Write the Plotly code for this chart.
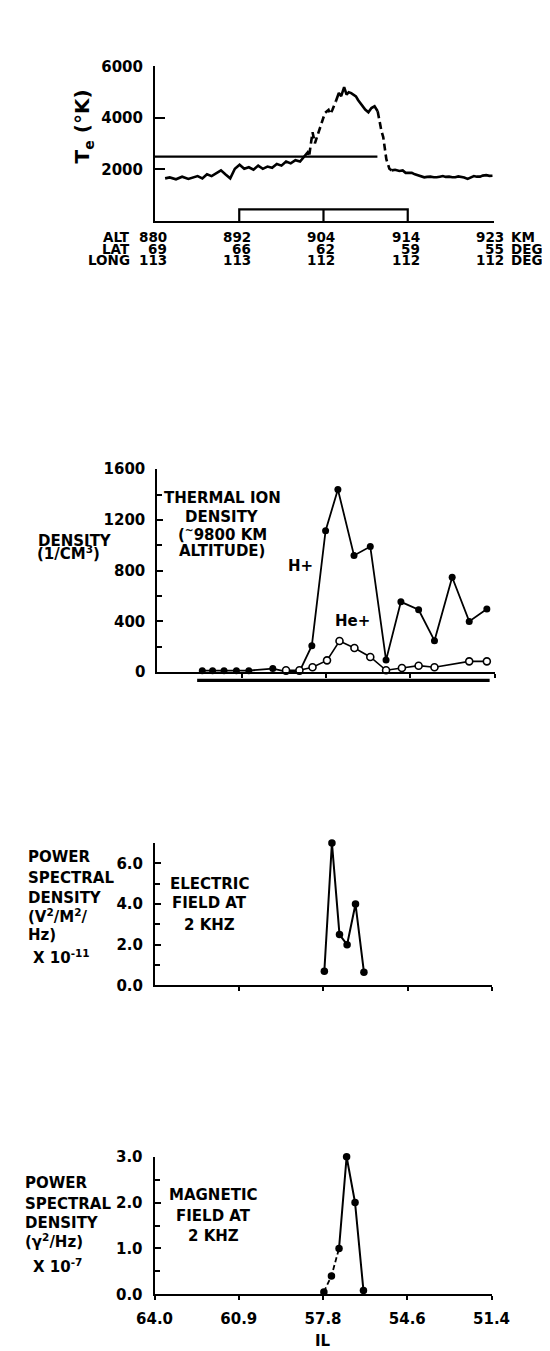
import plotly.graph_objects as go

W, H = 550, 1351

# ---------------- data ----------------
# common time-like position along the pass (0..4 = labelled tick marks)
tick_t = [0, 1, 2, 3, 4]
il_labels = ["64.0", "60.9", "57.8", "54.6", "51.4"]
alt_labels = ["880", "892", "904", "914", "923"]
lat_labels = ["69", "66", "62", "59", "55"]
long_labels = ["113", "113", "112", "112", "112"]

# electron temperature (K)
te_t = [0.120, 0.175, 0.249, 0.322, 0.396, 0.451, 0.506, 0.562, 0.617, 0.672,
        0.727, 0.783, 0.838, 0.893, 0.948, 1.004, 1.059, 1.114, 1.169, 1.225,
        1.280, 1.335, 1.390, 1.446, 1.501, 1.556, 1.611, 1.667, 1.722, 1.777,
        1.814, 1.832,
        1.870, 1.898, 1.961, 1.998, 2.017, 2.060, 2.080, 2.105, 2.146,
        2.182, 2.210, 2.230, 2.245, 2.274, 2.300, 2.329, 2.360, 2.385, 2.410,
        2.440, 2.470, 2.495, 2.533, 2.569, 2.606, 2.643,
        2.661, 2.687, 2.709, 2.735, 2.746, 2.782, 2.809,
        2.850, 2.901, 2.940, 2.975, 3.010, 3.048, 3.085, 3.122, 3.160, 3.196,
        3.230, 3.269, 3.310, 3.343, 3.380, 3.417, 3.450, 3.490, 3.530, 3.564,
        3.600, 3.638, 3.670, 3.711, 3.750, 3.785, 3.820, 3.859, 3.890, 3.931,
        3.970, 4.006]
te_k = [1654, 1691, 1617, 1716, 1630, 1691, 1741, 1654, 1815, 1741,
        1864, 1963, 1802, 1654, 2025, 2185, 2025, 2086, 1988, 2148,
        2025, 2111, 2062, 2210, 2148, 2309, 2235, 2358, 2309, 2519,
        2667, 2580,
        3445, 3016, 3630, 4063, 4190, 4310, 4150, 4310, 4640,
        4967, 4850, 5099, 5200, 4905, 5000, 4967, 4880, 4840, 4700,
        4580, 4450, 4325, 4220, 4387, 4453, 4260,
        3878, 3508, 3260, 2705, 2398, 2028, 1965,
        1990, 1941, 1960, 1867, 1880, 1867, 1810, 1780, 1740, 1695,
        1710, 1720, 1700, 1695, 1720, 1745, 1710, 1720, 1700, 1695,
        1730, 1720, 1690, 1634, 1700, 1745, 1720, 1720, 1760, 1780,
        1750, 1756]
te_dashed_spans = [(1.832, 2.146), (2.643, 2.809)]
te_ref_t = [0, 2.64]
te_ref_k = 2500
box_t = [1, 2, 3]
box_k = 450

# thermal ion density (1/cm3)
hplus_t = [0.533, 0.655, 0.791, 0.938, 1.085, 1.369, 1.526, 1.685, 1.832, 1.995,
           2.141, 2.332, 2.525, 2.712, 2.888, 3.098, 3.286, 3.496, 3.698, 3.907]
hplus_n = [12, 12, 12, 12, 12, 28, 5, 5, 209, 1115,
           1440, 920, 990, 95, 554, 492, 248, 748, 400, 498]
heplus_t = [1.526, 1.685, 1.840, 2.012, 2.160, 2.337, 2.525, 2.712, 2.900,
            3.098, 3.286, 3.698, 3.907]
heplus_n = [15, 15, 39, 93, 245, 190, 120, 15, 33, 51, 39, 85, 85]
ion_span_t = [0.472, 3.94]

# 2 kHz wave power spectral densities
vlf_t = [2.01, 2.10, 2.19, 2.28, 2.38, 2.48]
e_psd = [0.7, 7.0, 2.5, 2.0, 4.0, 0.65]
b_psd = [0.05, 0.4, 1.0, 3.0, 2.0, 0.08]
b_dashed_upto = 2

# ---------------- helpers ----------------
def fx(px):
    return px / W

def fy(py):
    return 1 - py / H

BLACK = "black"
FONT = "DejaVu Sans"

fig = go.Figure()

# ---- panel 1 : Te ----
segs = []
for i in range(len(te_t) - 1):
    mid = 0.5 * (te_t[i] + te_t[i + 1])
    dashed = any(a <= mid <= b for a, b in te_dashed_spans)
    if segs and segs[-1][0] == dashed:
        segs[-1][2] = i + 1
    else:
        segs.append([dashed, i, i + 1])
for dashed, i0, i1 in segs:
    fig.add_trace(go.Scatter(
        x=te_t[i0:i1 + 1], y=te_k[i0:i1 + 1], mode="lines",
        line=dict(color=BLACK, width=2.6, dash="7px,4px" if dashed else "solid"),
        xaxis="x", yaxis="y", showlegend=False, hoverinfo="skip"))
fig.add_trace(go.Scatter(
    x=te_ref_t, y=[te_ref_k, te_ref_k], mode="lines",
    line=dict(color=BLACK, width=2.2), xaxis="x", yaxis="y", showlegend=False))
fig.add_trace(go.Scatter(
    x=[box_t[0], box_t[0], box_t[2], box_t[2], None, box_t[1], box_t[1]],
    y=[0, box_k, box_k, 0, None, 0, box_k], mode="lines",
    line=dict(color=BLACK, width=2.2), xaxis="x", yaxis="y", showlegend=False))

# ---- panel 2 : density ----
fig.add_trace(go.Scatter(
    x=hplus_t, y=hplus_n, mode="lines+markers", cliponaxis=False,
    line=dict(color=BLACK, width=1.8),
    marker=dict(symbol="circle", size=7, color=BLACK),
    xaxis="x2", yaxis="y2", showlegend=False))
fig.add_trace(go.Scatter(
    x=heplus_t, y=heplus_n, mode="lines+markers", cliponaxis=False,
    line=dict(color=BLACK, width=1.6),
    marker=dict(symbol="circle", size=7, color="white", line=dict(color=BLACK, width=1.6)),
    xaxis="x2", yaxis="y2", showlegend=False))

# ---- panel 3 : electric field ----
fig.add_trace(go.Scatter(
    x=vlf_t, y=e_psd, mode="lines+markers", cliponaxis=False,
    line=dict(color=BLACK, width=2),
    marker=dict(symbol="circle", size=7.5, color=BLACK),
    xaxis="x3", yaxis="y3", showlegend=False))

# ---- panel 4 : magnetic field ----
fig.add_trace(go.Scatter(
    x=vlf_t[:b_dashed_upto + 1], y=b_psd[:b_dashed_upto + 1], mode="lines",
    line=dict(color=BLACK, width=1.8, dash="5px,3px"),
    xaxis="x4", yaxis="y4", showlegend=False))
fig.add_trace(go.Scatter(
    x=vlf_t[b_dashed_upto:], y=b_psd[b_dashed_upto:], mode="lines",
    line=dict(color=BLACK, width=2),
    xaxis="x4", yaxis="y4", showlegend=False))
fig.add_trace(go.Scatter(
    x=vlf_t, y=b_psd, mode="markers", cliponaxis=False,
    marker=dict(symbol="circle", size=7.5, color=BLACK),
    xaxis="x4", yaxis="y4", showlegend=False))

# ---------------- axes ----------------
def xax(dom, rng, anchor, **kw):
    d = dict(domain=dom, range=rng, anchor=anchor, showgrid=False, zeroline=False,
             showline=True, linecolor=BLACK, linewidth=2, fixedrange=True)
    d.update(kw)
    return d

def yax(dom, rng, anchor, **kw):
    d = dict(domain=dom, range=rng, anchor=anchor, showgrid=False, zeroline=False,
             showline=True, linecolor=BLACK, linewidth=2, ticks="inside",
             tickcolor=BLACK, tickwidth=2, ticklen=6, ticklabelstandoff=7,
             fixedrange=True)
    d.update(kw)
    return d

lower_x_ticks = dict(tickmode="array", tickvals=tick_t[1:], ticks="outside",
                     ticklen=4, tickwidth=2, tickcolor=BLACK)

fig.update_layout(
    width=W, height=H, margin=dict(l=0, r=0, t=0, b=0),
    paper_bgcolor="white", plot_bgcolor="white",
    font=dict(family=FONT, size=15, color=BLACK, weight="bold"),
    xaxis=xax([fx(137.5), fx(501.7)], [0, (501.7 - 137.5) / 90.5], "y",
              showticklabels=False, ticks=""),
    yaxis=yax([fy(206.7), fy(50)], [0, 6005], "x",
              tickmode="array", tickvals=[2000, 4000, 6000], ticklen=10),
    xaxis2=xax([fx(140), fx(502.4)], [0, 4], "y2", showticklabels=False,
               **lower_x_ticks),
    yaxis2=yax([fy(664), fy(458)], [0, 1602], "x2",
               tickmode="linear", tick0=0, dtick=400,
               minor=dict(tickmode="linear", tick0=0, dtick=200, ticks="inside",
                          ticklen=5, tickwidth=2, tickcolor=BLACK)),
    xaxis3=xax([fx(137.5), fx(499.5)], [0, 4], "y3", showticklabels=False,
               **lower_x_ticks),
    yaxis3=yax([fy(981.5), fy(837)], [0, 7.005], "x3",
               tickmode="linear", tick0=0, dtick=2, tickformat=".1f",
               minor=dict(tickmode="linear", tick0=0, dtick=1, ticks="inside",
                          ticklen=5, tickwidth=2, tickcolor=BLACK)),
    xaxis4=xax([fx(137), fx(499)], [0, 4], "y4", showticklabels=True,
               tickmode="array", tickvals=tick_t, ticktext=il_labels,
               ticks="outside", ticklen=4, tickwidth=2, tickcolor=BLACK,
               ticklabelstandoff=6),
    yaxis4=yax([fy(1294.5), fy(1155)], [0, 3.003], "x4",
               tickmode="linear", tick0=0, dtick=1, tickformat=".1f",
               minor=dict(tickmode="linear", tick0=0, dtick=0.5, ticks="inside",
                          ticklen=5, tickwidth=2, tickcolor=BLACK)),
)

# ---------------- shapes ----------------
fig.add_shape(type="line", xref="x2", yref="paper",
              x0=ion_span_t[0], x1=ion_span_t[1], y0=fy(672.3), y1=fy(672.3),
              line=dict(color=BLACK, width=3.3))

# ---------------- annotations ----------------
ann = []

def txt(text, px, py, xanchor="center", size=15, **kw):
    d = dict(text=text, x=fx(px), y=fy(py), xref="paper", yref="paper",
             xanchor=xanchor, yanchor="middle", showarrow=False,
             font=dict(size=size))
    d.update(kw)
    ann.append(d)

# panel 1 labels
txt("T<sub>e</sub> (°K)", 60, 111, size=20, textangle=-90)
rows = [("ALT", alt_labels, "KM", 223.3), ("LAT", lat_labels, "DEG", 235.0),
        ("LONG", long_labels, "DEG", 246.7)]
ROW_FONT = 13.5
for name, labels, unit, py in rows:
    txt(name, 112, py, xanchor="right", size=ROW_FONT, borderpad=0)
    for t, lab in zip(tick_t, labels):
        ann.append(dict(text=lab, x=t, xref="x", y=fy(py), yref="paper",
                        xanchor="right", yanchor="middle", xshift=13,
                        showarrow=False, borderpad=0, font=dict(size=ROW_FONT)))
    txt(unit, 519, py, xanchor="left", size=ROW_FONT, borderpad=0)

# panel 2 labels
txt("DENSITY", 10, 530.7, xanchor="left")
txt("(1/CM<sup>3</sup>)", 9, 543.5, xanchor="left")
for s, py in [("THERMAL ION", 487.8), ("DENSITY", 506.3),
              ("(<sup>~</sup>9800 KM", 523.7), ("ALTITUDE)", 541.3)]:
    txt(s, 210, py)
txt("H+", 294, 556.7)
txt("He+", 350, 612.5)

# panel 3 labels
for s, py in [("POWER", 851.7), ("SPECTRAL", 872.5), ("DENSITY", 892.7),
              ("(V<sup>2</sup>/M<sup>2</sup>/", 911), ("Hz)", 930)]:
    txt(s, -1, py, xanchor="left")
txt("X 10<sup>-11</sup>", 4, 953, xanchor="left")
for s, py in [("ELECTRIC", 878.3), ("FIELD AT", 898.3), ("2 KHZ", 920)]:
    txt(s, 196, py)

# panel 4 labels
for s, py in [("POWER", 1182), ("SPECTRAL", 1202.7), ("DENSITY", 1222.3),
              ("(γ<sup>2</sup>/Hz)", 1241)]:
    txt(s, -4, py, xanchor="left")
txt("X 10<sup>-7</sup>", 4, 1266, xanchor="left")
for s, py in [("MAGNETIC", 1194.3), ("FIELD AT", 1215), ("2 KHZ", 1235)]:
    txt(s, 200, py)
txt("IL", 318, 1341.7)

fig.update_layout(annotations=ann)

fig.write_html("out.html")
